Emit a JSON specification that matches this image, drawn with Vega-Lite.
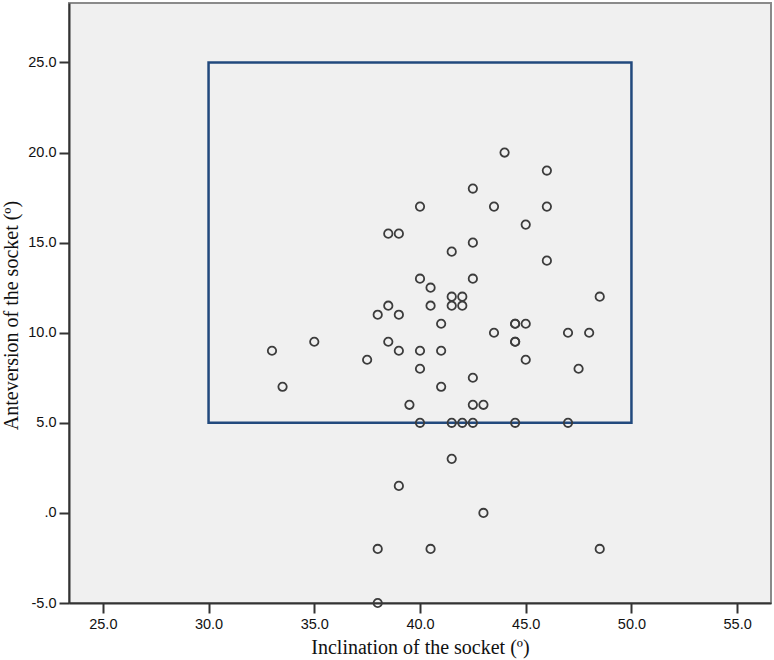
{
  "$schema": "https://vega.github.io/schema/vega-lite/v6.json",
  "width": 702,
  "height": 600,
  "autosize": {"type": "none"},
  "padding": {"left": 69, "top": 3, "right": 3, "bottom": 57},
  "background": "white",
  "config": {
    "view": {"fill": "#f0f0f0", "stroke": "#8a8a8a", "strokeWidth": 2},
    "axis": {
      "grid": false,
      "domainColor": "#333333",
      "domainWidth": 2,
      "tickColor": "#333333",
      "tickWidth": 2,
      "tickSize": 10,
      "labelFont": "Liberation Sans",
      "labelFontSize": 14.5,
      "labelColor": "#111111",
      "titleFont": "Liberation Serif",
      "titleFontSize": 20,
      "titleFontWeight": "normal",
      "titleColor": "#111111"
    }
  },
  "datasets": {
    "box": [{"x1": 30, "x2": 50, "y1": 5, "y2": 25}],
    "pts": [
      {"inclination": 33.0, "anteversion": 9.0},
      {"inclination": 33.5, "anteversion": 7.0},
      {"inclination": 35.0, "anteversion": 9.5},
      {"inclination": 37.5, "anteversion": 8.5},
      {"inclination": 38.0, "anteversion": 11.0},
      {"inclination": 38.0, "anteversion": -2.0},
      {"inclination": 38.0, "anteversion": -5.0},
      {"inclination": 38.5, "anteversion": 15.5},
      {"inclination": 39.0, "anteversion": 15.5},
      {"inclination": 38.5, "anteversion": 11.5},
      {"inclination": 38.5, "anteversion": 9.5},
      {"inclination": 39.0, "anteversion": 11.0},
      {"inclination": 39.0, "anteversion": 9.0},
      {"inclination": 39.0, "anteversion": 1.5},
      {"inclination": 39.5, "anteversion": 6.0},
      {"inclination": 40.0, "anteversion": 17.0},
      {"inclination": 40.0, "anteversion": 13.0},
      {"inclination": 40.0, "anteversion": 9.0},
      {"inclination": 40.0, "anteversion": 8.0},
      {"inclination": 40.0, "anteversion": 5.0},
      {"inclination": 40.5, "anteversion": 12.5},
      {"inclination": 40.5, "anteversion": 11.5},
      {"inclination": 40.5, "anteversion": -2.0},
      {"inclination": 41.0, "anteversion": 10.5},
      {"inclination": 41.0, "anteversion": 9.0},
      {"inclination": 41.0, "anteversion": 7.0},
      {"inclination": 41.5, "anteversion": 14.5},
      {"inclination": 41.5, "anteversion": 12.0},
      {"inclination": 41.5, "anteversion": 11.5},
      {"inclination": 42.0, "anteversion": 12.0},
      {"inclination": 42.0, "anteversion": 11.5},
      {"inclination": 41.5, "anteversion": 5.0},
      {"inclination": 41.5, "anteversion": 3.0},
      {"inclination": 42.0, "anteversion": 5.0},
      {"inclination": 42.5, "anteversion": 18.0},
      {"inclination": 42.5, "anteversion": 15.0},
      {"inclination": 42.5, "anteversion": 13.0},
      {"inclination": 42.5, "anteversion": 7.5},
      {"inclination": 42.5, "anteversion": 6.0},
      {"inclination": 43.0, "anteversion": 6.0},
      {"inclination": 42.5, "anteversion": 5.0},
      {"inclination": 43.0, "anteversion": 0.0},
      {"inclination": 43.5, "anteversion": 17.0},
      {"inclination": 43.5, "anteversion": 10.0},
      {"inclination": 44.0, "anteversion": 20.0},
      {"inclination": 44.5, "anteversion": 10.5},
      {"inclination": 44.5, "anteversion": 10.5},
      {"inclination": 45.0, "anteversion": 10.5},
      {"inclination": 44.5, "anteversion": 9.5},
      {"inclination": 44.5, "anteversion": 9.5},
      {"inclination": 45.0, "anteversion": 8.5},
      {"inclination": 45.0, "anteversion": 16.0},
      {"inclination": 44.5, "anteversion": 5.0},
      {"inclination": 46.0, "anteversion": 19.0},
      {"inclination": 46.0, "anteversion": 17.0},
      {"inclination": 46.0, "anteversion": 14.0},
      {"inclination": 47.0, "anteversion": 10.0},
      {"inclination": 47.0, "anteversion": 5.0},
      {"inclination": 47.5, "anteversion": 8.0},
      {"inclination": 48.0, "anteversion": 10.0},
      {"inclination": 48.5, "anteversion": 12.0},
      {"inclination": 48.5, "anteversion": -2.0}
    ]
  },
  "layer": [
    {
      "data": {"name": "box"},
      "mark": {"type": "rect", "fill": null, "fillOpacity": 0, "stroke": "#22497d", "strokeWidth": 2.5, "clip": true},
      "encoding": {
        "x": {"field": "x1", "type": "quantitative", "scale": {"domain": [23.4, 56.6], "nice": false, "zero": false},
          "axis": {"title": "Inclination of the socket (º)", "values": [25, 30, 35, 40, 45, 50, 55],
            "labelExpr": "datum.value == 0 ? '.0' : replace(format(datum.value, '.1f'), '\u2212', '-')", "labelPadding": 4, "titleY": 50, "titleBaseline": "alphabetic"}},
        "x2": {"field": "x2"},
        "y": {"field": "y1", "type": "quantitative", "scale": {"domain": [-5, 28.3], "nice": false, "zero": false},
          "axis": {"title": "Anteversion of the socket (º)", "values": [-5, 0, 5, 10, 15, 20, 25],
            "labelExpr": "datum.value == 0 ? '.0' : replace(format(datum.value, '.1f'), '\u2212', '-')", "labelPadding": 3,
            "titleX": -52, "titleY": 312, "titleAngle": -90, "titleBaseline": "alphabetic", "titleAlign": "center"}},
        "y2": {"field": "y2"}
      }
    },
    {
      "data": {"name": "pts"},
      "mark": {"type": "point", "shape": "circle", "filled": false, "size": 70, "stroke": "#3c3c3c", "strokeWidth": 1.8, "opacity": 1},
      "encoding": {
        "x": {"field": "inclination", "type": "quantitative"},
        "y": {"field": "anteversion", "type": "quantitative"}
      }
    }
  ]
}
